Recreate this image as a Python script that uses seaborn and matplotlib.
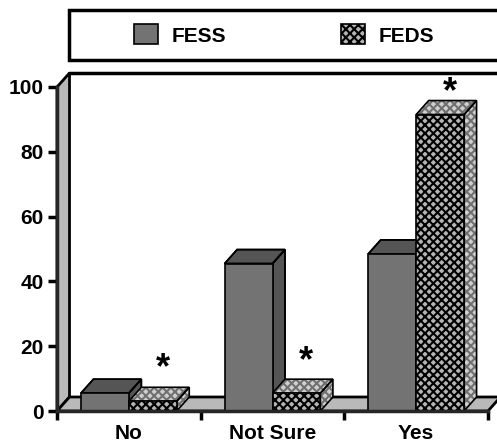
import pandas as pd
import seaborn as sns
import matplotlib.pyplot as plt
from matplotlib.patches import Polygon, Rectangle

categories = ['No', 'Not Sure', 'Yes']
fess = [5.5, 45.5, 48.5]
feds = [3, 5.5, 91.5]
star_heights = [13.2, 15.1, 98.4]
y_ticks = [0, 20, 40, 60, 80, 100]

W, H = 497, 444
LEFT, RIGHT, TOP, BOTTOM = 57, 488, 87, 411

sns.set_theme(style='white')
plt.rcParams['font.family'] = ['Liberation Sans', 'DejaVu Sans']
plt.rcParams['font.weight'] = 'bold'
plt.rcParams['text.color'] = 'black'
plt.rcParams['xtick.color'] = 'black'
plt.rcParams['ytick.color'] = 'black'
plt.rcParams['hatch.linewidth'] = 1.5

df = pd.DataFrame({
    'cat': categories * 2,
    'group': ['FESS'] * 3 + ['FEDS'] * 3,
    'val': fess + feds,
})

fig = plt.figure(figsize=(W / 100, H / 100), dpi=100)
ax = fig.add_axes([LEFT / W, 1 - BOTTOM / H, (RIGHT - LEFT) / W, (BOTTOM - TOP) / H])

sns.barplot(data=df, x='cat', y='val', hue='group', hue_order=['FESS', 'FEDS'],
            order=categories, width=0.667, gap=0, dodge=True, legend=False, ax=ax)
ax.set_xlim(-0.5, 2.5)
ax.set_ylim(0, 100)

# profondeur du faux 3D, en unites de donnees
dx = 12.5 / ((RIGHT - LEFT) / 3)
dy = 14 / ((BOTTOM - TOP) / 100)

# murs et sol
wall = '#b9b9b9'
ax.add_patch(Polygon([(-0.5, 0), (-0.5 + dx, dy), (-0.5 + dx, 100 + dy), (-0.5, 100)],
                     fc=wall, ec='black', lw=2, clip_on=False, zorder=1))
ax.add_patch(Polygon([(-0.5, 0), (-0.5 + dx, dy), (2.5 + dx, dy), (2.5, 0)],
                     fc=wall, ec='black', lw=2, clip_on=False, zorder=1))
ax.plot([-0.5 + dx, 2.6], [100 + dy, 100 + dy], color='black', lw=2.5, clip_on=False, zorder=1)

styles = [
    dict(front='#737373', top='#555555', side='#555555', hatch=None, hatch_col=None),
    dict(front='#b4b4b4', top='#cfcfcf', side='#cfcfcf', hatch='xxxx', hatch_col='#707070'),
]

for k, (container, st) in enumerate(zip(ax.containers, styles)):
    z = 3 + k
    for bar in container:
        x0, w, h = bar.get_x(), bar.get_width(), bar.get_height()
        x1 = x0 + w
        bar.set(facecolor=st['front'], edgecolor='black', linewidth=1.2, zorder=z + 0.2)
        if st['hatch']:
            bar.set_hatch(st['hatch'])
        top = [(x0, h), (x0 + dx, h + dy), (x1 + dx, h + dy), (x1, h)]
        side = [(x1, 0), (x1 + dx, dy), (x1 + dx, h + dy), (x1, h)]
        for pts, col in ((side, st['side']), (top, st['top'])):
            ec = st['hatch_col'] if st['hatch'] else 'black'
            ax.add_patch(Polygon(pts, fc=col, ec=ec, hatch=st['hatch'], lw=0 if st['hatch'] else 1.2,
                                 clip_on=False, zorder=z))
            ax.add_patch(Polygon(pts, fill=False, ec='black', lw=1.2, clip_on=False, zorder=z + 0.1))

# etoiles
for i, s in enumerate(star_heights):
    ax.text(i + 0.235, s, '*', ha='center', va='center', fontsize=26, color='black',
            clip_on=False, zorder=8)

# axes
sns.despine(ax=ax)
ax.spines['left'].set_linewidth(2.5)
ax.spines['bottom'].set_linewidth(2.5)
ax.spines['left'].set_zorder(2)
ax.spines['bottom'].set_zorder(6)
ax.set_xlabel('')
ax.set_ylabel('')
ax.set_yticks(y_ticks)
ax.set_xticks(range(len(categories)))
ax.set_xticklabels(categories)
ax.set_xticks([-0.5, 0.5, 1.5, 2.5], minor=True)
ax.tick_params(axis='x', which='major', length=0, pad=9.5, labelsize=15)
ax.tick_params(axis='x', which='minor', length=6.5, width=2.5, bottom=True, color='black')
ax.tick_params(axis='y', length=6.5, width=2.5, pad=3, labelsize=15, left=True, color='black')

# legende
fig.add_artist(Rectangle((69 / W, 1 - 60 / H), 440 / W, 50 / H, transform=fig.transFigure,
                         fc='white', ec='black', lw=2.5))
handles = [Rectangle((0, 0), 1, 1, fc=st['front'], ec='black', lw=1.2, hatch=st['hatch']) for st in styles]
fig.legend(handles, ['FESS', 'FEDS'], ncol=2, frameon=False, loc='center',
           bbox_to_anchor=(284 / W, 1 - 35 / H), fontsize=15,
           handlelength=1.15, handleheight=1.1, handletextpad=0.65, columnspacing=5.5)

fig.savefig('out.png', dpi=100)
